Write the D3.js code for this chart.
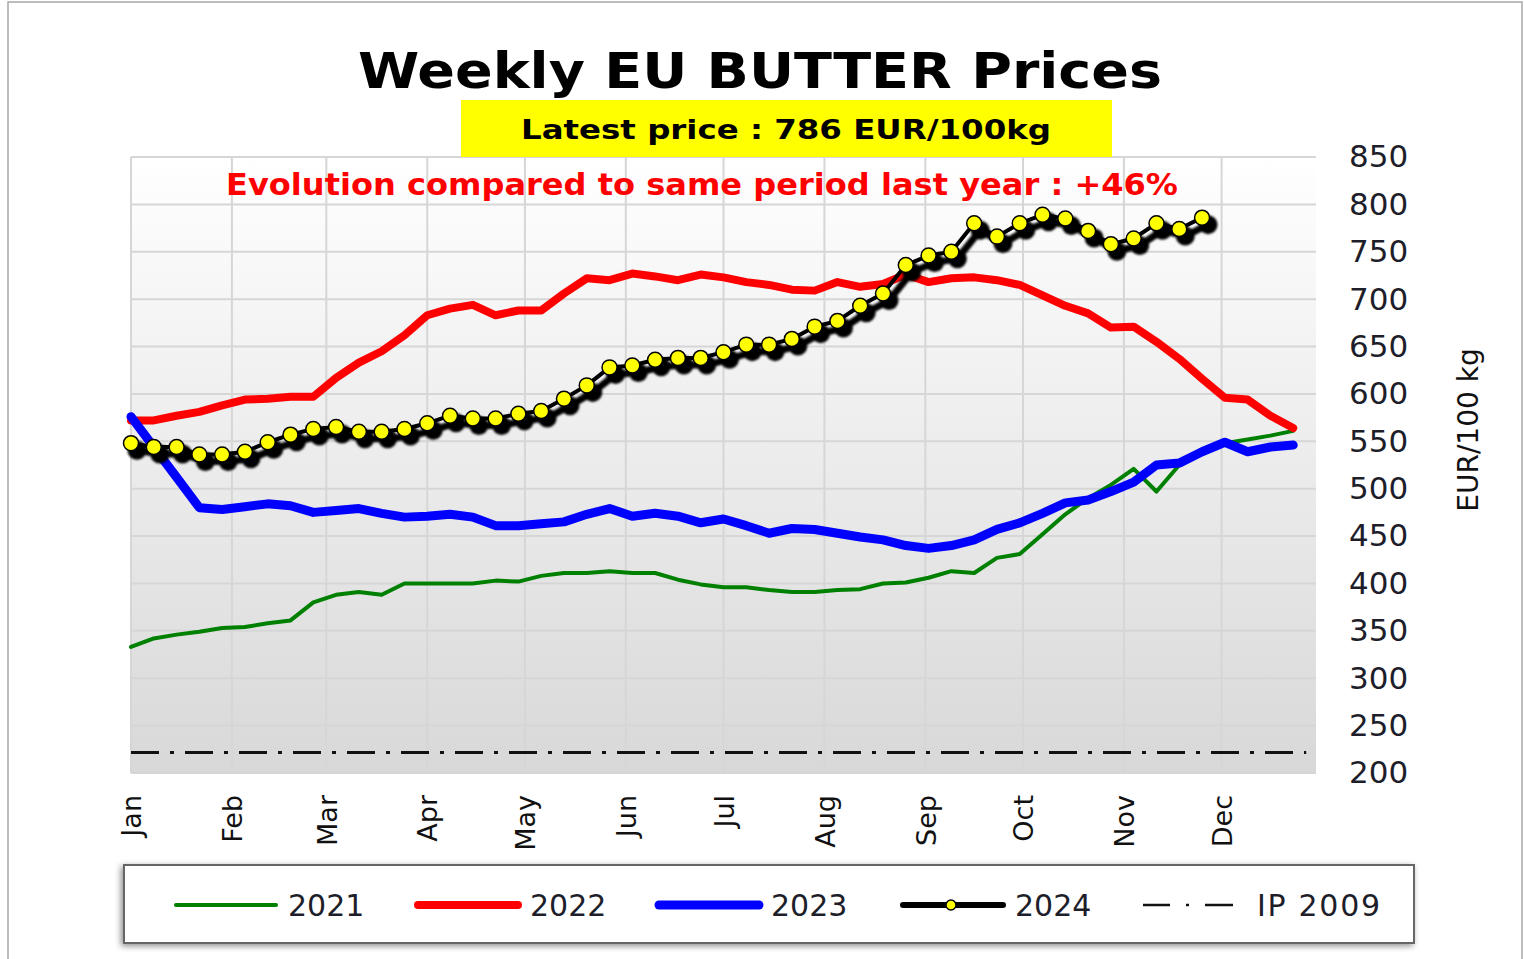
<!DOCTYPE html>
<html>
<head>
<meta charset="utf-8">
<script src="https://cdn.jsdelivr.net/npm/d3@7"></script>
<style>
    body { margin: 0; background: #fff; }
    text { font-family: "DejaVu Sans", Verdana, sans-serif; }
</style>
</head>
<body>
<div id="Graph_Butter"></div>
<script>
// ----------------
// DATA weekly EU butter prices (EUR/100kg)
// ----------------
const months = ["Jan", "Feb", "Mar", "Apr", "May", "Jun", "Jul", "Aug", "Sep", "Oct", "Nov", "Dec"];
const yTicks = [200, 250, 300, 350, 400, 450, 500, 550, 600, 650, 700, 750, 800, 850];

const prices2021 = [333, 342, 346, 349, 353, 354, 358, 361, 380, 388, 391, 388, 400, 400, 400, 400, 403, 402, 408, 411,
    411, 413, 411, 411, 404, 399, 396, 396, 393, 391, 391, 393, 394, 400, 401, 406, 413, 411, 427, 431,
    452, 473, 490, 504, 521, 497, 525, 537, 548, 552, 556, 561];
const prices2022 = [572, 572, 577, 581, 588, 594, 595, 597, 597, 617, 633, 645, 662, 683, 690, 694, 683, 688, 688, 706,
    722, 720, 727, 724, 720, 726, 723, 718, 715, 710, 709, 718, 713, 716, 726, 718, 722, 723, 720, 715,
    704, 693, 685, 670, 671, 655, 637, 616, 596, 594, 577, 564];
const prices2023 = [576, 544, 512, 480, 478, 481, 484, 482, 475, 477, 479, 474, 470, 471, 473, 470, 461, 461, 463, 465,
    473, 479, 471, 474, 471, 464, 468, 461, 453, 458, 457, 453, 449, 446, 440, 437, 440, 446, 457, 464,
    474, 485, 488, 497, 507, 525, 527, 539, 549, 539, 544, 546];
const prices2024 = [548, 544, 544, 536, 536, 539, 549, 557, 563, 565, 560, 560, 563, 569, 577, 574, 574, 579, 582, 595,
    609, 628, 630, 636, 638, 638, 644, 652, 652, 658, 671, 677, 693, 706, 736, 746, 750, 780, 766, 780,
    789, 785, 772, 758, 764, 780, 774, 786];
const ip2009 = 221.75;

const latestPrice = 786;
const evolution = 46;

// set the dimensions and margins of the graph
const margin = { top: 157, right: 208, bottom: 186, left: 131 },
    width = 1524 - margin.left - margin.right,
    height = 959 - margin.top - margin.bottom;

const svgRoot = d3.select("#Graph_Butter")
    .append("svg")
    .attr("width", 1524)
    .attr("height", 959);

const defs = svgRoot.append("defs");

// plot background: white to grey
const grad = defs.append("linearGradient")
    .attr("id", "bgGrad")
    .attr("x1", 0).attr("y1", 0).attr("x2", 0).attr("y2", 1);
grad.append("stop").attr("offset", "0%").attr("stop-color", "#ffffff");
grad.append("stop").attr("offset", "100%").attr("stop-color", "#d8d8d8");

// blur for the 2024 shadow
defs.append("filter").attr("id", "blurShadow")
    .attr("x", "-10%").attr("y", "-10%").attr("width", "120%").attr("height", "120%")
    .append("feGaussianBlur").attr("stdDeviation", 1.2);

// drop shadow for the legend box
defs.append("filter").attr("id", "legendShadow")
    .attr("x", "-5%").attr("y", "-30%").attr("width", "110%").attr("height", "160%")
    .append("feDropShadow")
    .attr("dx", -2).attr("dy", 2).attr("stdDeviation", 3)
    .attr("flood-color", "#000").attr("flood-opacity", 0.45);

// outer frame
svgRoot.append("rect")
    .attr("x", 8).attr("y", 2)
    .attr("width", 1514).attr("height", 970)
    .attr("fill", "none")
    .attr("stroke", "#a8a8a8")
    .attr("stroke-width", 1.5);

const svg = svgRoot.append("g")
    .attr("transform", `translate(${margin.left},${margin.top})`);

// x axis: one year, weekly points
const start = new Date(2024, 0, 1);
const x = d3.scaleTime()
    .domain([start, d3.timeDay.offset(start, 364)])
    .range([0, width]);
const monthStarts = months.map((m, i) => new Date(2024, i, 1));
const week = i => d3.timeDay.offset(start, 7 * i);

// y axis
const y = d3.scaleLinear()
    .domain([200, 850])
    .range([height, 0]);

// background + grid
svg.append("rect")
    .attr("width", width)
    .attr("height", height)
    .attr("fill", "url(#bgGrad)");

svg.append("g")
    .selectAll("line")
    .data(yTicks)
    .join("line")
    .attr("x1", 0).attr("x2", width)
    .attr("y1", d => y(d)).attr("y2", d => y(d))
    .attr("stroke", "#d6d6d6")
    .attr("stroke-width", 2);

svg.append("g")
    .selectAll("line")
    .data(monthStarts)
    .join("line")
    .attr("x1", d => x(d)).attr("x2", d => x(d))
    .attr("y1", 0).attr("y2", height)
    .attr("stroke", "#d6d6d6")
    .attr("stroke-width", 2);

// Add Y axis (right side)
const yAxis = svg.append("g")
    .attr("transform", `translate(${width},0)`)
    .call(d3.axisRight(y).tickValues(yTicks).tickSize(0).tickPadding(33));
yAxis.select(".domain").remove();
yAxis.selectAll("text")
    .style("font-size", "31px")
    .attr("fill", "#1e1e2a");

svgRoot.append("text")
    .attr("transform", "translate(1478,430) rotate(-90)")
    .attr("text-anchor", "middle")
    .style("font-size", "28px")
    .attr("fill", "#111")
    .text("EUR/100 kg");

// Add X axis (rotated month names)
const xAxis = svg.append("g")
    .attr("transform", `translate(0,${height})`)
    .call(d3.axisBottom(x).tickValues(monthStarts).tickFormat((d, i) => months[i]).tickSize(0));
xAxis.select(".domain").remove();
xAxis.selectAll("text")
    .attr("transform", "rotate(-90)")
    .attr("x", -22)
    .attr("y", 0)
    .attr("dy", "0.36em")
    .style("text-anchor", "end")
    .style("font-size", "27px")
    .attr("fill", "#111");

// IP 2009 dash-dot line
svg.append("line")
    .attr("x1", 0).attr("x2", x(d3.timeDay.offset(start, 361)))
    .attr("y1", y(ip2009)).attr("y2", y(ip2009))
    .attr("stroke", "#111")
    .attr("stroke-width", 3)
    .attr("stroke-dasharray", "28,11,4,11");

// lines
const line = d3.line()
    .x((d, i) => x(week(i)))
    .y(d => y(d));

svg.append("path").datum(prices2021)
    .attr("fill", "none").attr("stroke", "#008000").attr("stroke-width", 4)
    .attr("stroke-linejoin", "round").attr("stroke-linecap", "round")
    .attr("d", line);

svg.append("path").datum(prices2022)
    .attr("fill", "none").attr("stroke", "#ff0000").attr("stroke-width", 8)
    .attr("stroke-linejoin", "round").attr("stroke-linecap", "round")
    .attr("d", line);

svg.append("path").datum(prices2023)
    .attr("fill", "none").attr("stroke", "#0000ff").attr("stroke-width", 9)
    .attr("stroke-linejoin", "round").attr("stroke-linecap", "round")
    .attr("d", line);

// 2024: shadow, line, yellow markers
const shadow = svg.append("g")
    .attr("transform", "translate(6,7)")
    .attr("filter", "url(#blurShadow)");
shadow.append("path").datum(prices2024)
    .attr("fill", "none").attr("stroke", "#000").attr("stroke-width", 7)
    .attr("d", line);
shadow.selectAll("circle")
    .data(prices2024)
    .join("circle")
    .attr("cx", (d, i) => x(week(i)))
    .attr("cy", d => y(d))
    .attr("r", 9.5)
    .attr("fill", "#000");

svg.append("path").datum(prices2024)
    .attr("fill", "none").attr("stroke", "#000").attr("stroke-width", 4)
    .attr("stroke-linejoin", "round")
    .attr("d", line);

svg.append("g")
    .selectAll("circle")
    .data(prices2024)
    .join("circle")
    .attr("cx", (d, i) => x(week(i)))
    .attr("cy", d => y(d))
    .attr("r", 7.5)
    .attr("fill", "#ffff00")
    .attr("stroke", "#000")
    .attr("stroke-width", 1.5);

// titles
svgRoot.append("text")
    .attr("x", 358).attr("y", 88)
    .attr("textLength", 804).attr("lengthAdjust", "spacingAndGlyphs")
    .style("font-size", "50px").style("font-weight", "bold")
    .attr("fill", "#000")
    .text("Weekly EU BUTTER Prices");

svgRoot.append("rect")
    .attr("x", 461).attr("y", 100)
    .attr("width", 651).attr("height", 57)
    .attr("fill", "#ffff00");

svgRoot.append("text")
    .attr("x", 521).attr("y", 139)
    .attr("textLength", 530).attr("lengthAdjust", "spacingAndGlyphs")
    .style("font-size", "27px").style("font-weight", "bold")
    .attr("fill", "#000")
    .text(`Latest price : ${latestPrice} EUR/100kg`);

svgRoot.append("text")
    .attr("x", 226).attr("y", 195)
    .attr("textLength", 952).attr("lengthAdjust", "spacingAndGlyphs")
    .style("font-size", "30px").style("font-weight", "bold")
    .attr("fill", "#ff0000")
    .text(`Evolution compared to same period last year : +${evolution}%`);

// legend
const legend = svgRoot.append("g");
legend.append("rect")
    .attr("x", 124).attr("y", 865)
    .attr("width", 1290).attr("height", 78)
    .attr("fill", "#fff")
    .attr("stroke", "#666")
    .attr("stroke-width", 2)
    .attr("filter", "url(#legendShadow)");

const legendItems = [
    { label: "2021", x: 176, color: "#008000", w: 4 },
    { label: "2022", x: 418, color: "#ff0000", w: 8 },
    { label: "2023", x: 659, color: "#0000ff", w: 9 },
    { label: "2024", x: 903, color: "#000", w: 6, dot: true }
];
const ly = 905;
legendItems.forEach(d => {
    legend.append("line")
        .attr("x1", d.x).attr("x2", d.x + 100)
        .attr("y1", ly).attr("y2", ly)
        .attr("stroke", d.color).attr("stroke-width", d.w)
        .attr("stroke-linecap", "round");
    if (d.dot) {
        legend.append("circle")
            .attr("cx", d.x + 48).attr("cy", ly).attr("r", 5)
            .attr("fill", "#ffff00").attr("stroke", "#000").attr("stroke-width", 1.5);
    }
    legend.append("text")
        .attr("x", d.x + 112).attr("y", ly + 11)
        .style("font-size", "30px")
        .attr("fill", "#1e1e2a")
        .text(d.label);
});
legend.append("line")
    .attr("x1", 1143).attr("x2", 1233)
    .attr("y1", ly).attr("y2", ly)
    .attr("stroke", "#111").attr("stroke-width", 2.5)
    .attr("stroke-dasharray", "27,16,3,16,28");
legend.append("text")
    .attr("x", 1257).attr("y", ly + 11)
    .attr("textLength", 123).attr("lengthAdjust", "spacing")
    .style("font-size", "30px")
    .attr("fill", "#1e1e2a")
    .text("IP 2009");
</script>
</body>
</html>
